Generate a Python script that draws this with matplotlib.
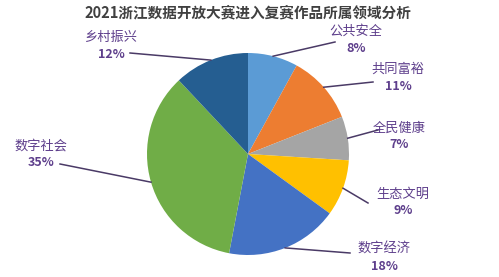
import matplotlib
matplotlib.use("Agg")
import matplotlib.pyplot as plt
import numpy as np

plt.rcParams['font.family'] = ['Noto Sans CJK SC', 'DejaVu Sans']

title = "2021浙江数据开放大赛进入复赛作品所属领域分析"
categories = ["公共安全", "共同富裕", "全民健康", "生态文明", "数字经济", "数字社会", "乡村振兴"]
values = [8, 11, 7, 9, 18, 35, 12]
colors = ["#5b9bd5", "#ed7d31", "#a5a5a5", "#ffc000", "#4472c4", "#70ad47", "#255e91"]

# label text centres (pixel coords, y down) and leader end points
label_pos = [(356, 31), (398, 69), (399, 128), (403, 194), (384, 249), (41, 146), (111, 37)]
line_end = [(335, 42), (373, 82), (378, 130), (368, 203), (350, 253), (60, 164), (130, 53)]

W, H = 499, 277
fig = plt.figure(figsize=(W / 100, H / 100), dpi=100)
ax = fig.add_axes([0, 0, 1, 1])

cx, cy, r = 248, H - 154, 101
wedges, _ = ax.pie(values, colors=colors, startangle=90, counterclock=False,
                   center=(cx, cy), radius=r, frame=True,
                   wedgeprops=dict(linewidth=0))
ax.set_xlim(0, W)
ax.set_ylim(0, H)
ax.set_aspect('equal')
ax.axis('off')

txt_color = "#5e3f8c"
line_color = "#4a3a66"
for w, cat, v, lp, le in zip(wedges, categories, values, label_pos, line_end):
    ang = np.deg2rad((w.theta1 + w.theta2) / 2)
    x0 = cx + r * np.cos(ang)
    y0 = cy + r * np.sin(ang)
    ax.plot([x0, le[0]], [y0, H - le[1]], color=line_color, lw=1.1)
    ax.text(lp[0], H - lp[1], cat, ha='center', va='center', fontsize=9.5,
            fontweight='medium', color=txt_color)
    ax.text(lp[0], H - lp[1] - 17, f"{v}%", ha='center', va='center',
            fontsize=9, fontweight='bold', color=txt_color)

ax.text(248, H - 12, title, ha='center', va='center', fontsize=10.5,
        fontweight='bold', color="#404040")

fig.savefig("out.png", dpi=100)
